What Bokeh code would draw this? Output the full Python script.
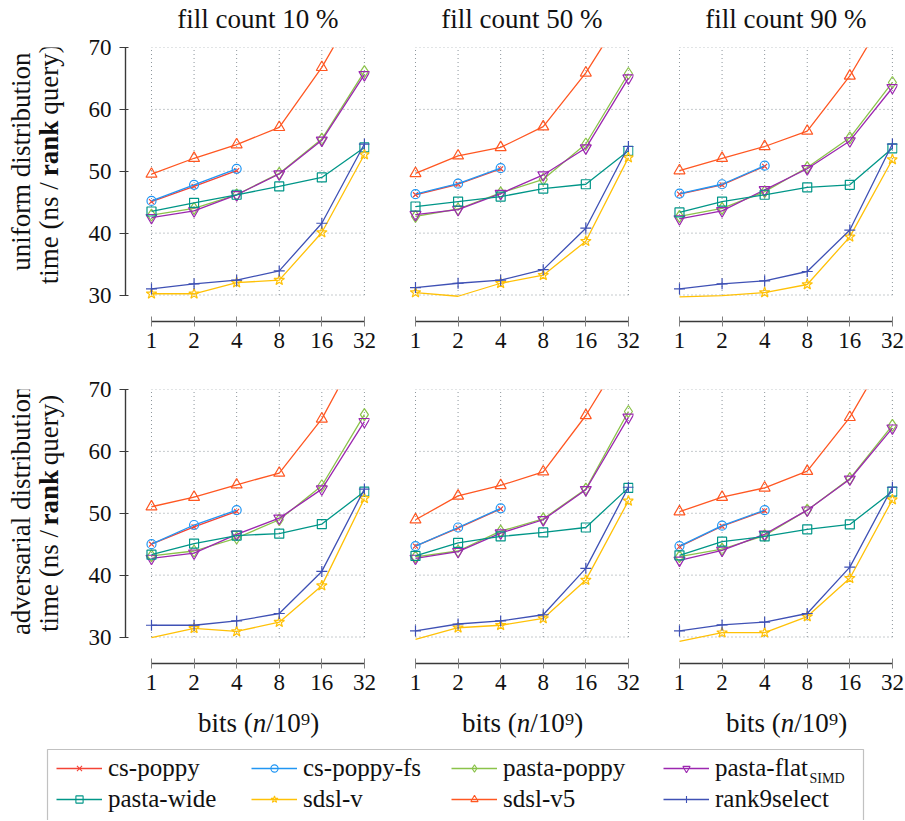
import math
from bokeh.plotting import figure
from bokeh.layouts import row, column
from bokeh.models import (Range1d, FixedTicker, BasicTickFormatter, Label,
                          Legend, LegendItem, BoxAnnotation)
from bokeh.core.properties import value
from bokeh.embed import file_html
from bokeh.resources import INLINE

# ---------------- data ----------------
bits = [1, 2, 4, 8, 16, 32]
y_ticks = [30, 40, 50, 60, 70]
fill_titles = ["fill count 10 %", "fill count 50 %", "fill count 90 %"]
row_titles = ["uniform distribution", "adversarial distribution"]
series_names = ["cs-poppy", "cs-poppy-fs", "pasta-poppy", "pasta-flat",
                "pasta-wide", "sdsl-v", "sdsl-v5", "rank9select"]

# panel order: uniform 10/50/90 %, adversarial 10/50/90 %
cs_poppy = [
    [45.1, 47.55, 50.1],
    [46.2, 47.9, 50.4],
    [46.3, 47.8, 50.8],
    [45.0, 47.8, 50.3],
    [44.7, 47.6, 50.7],
    [44.6, 47.9, 50.4],
]
cs_poppy_fs = [
    [45.2, 47.8, 50.4],
    [46.3, 48.0, 50.5],
    [46.4, 47.9, 50.9],
    [45.0, 48.1, 50.5],
    [44.7, 47.7, 50.8],
    [44.7, 48.0, 50.5],
]
pasta_poppy = [
    [42.9, 44.0, 46.2, 49.65, 55.2, 66.1],
    [42.7, 43.9, 46.5, 48.7, 54.4, 65.8],
    [42.7, 44.0, 46.7, 50.6, 55.4, 64.35],
    [43.1, 43.9, 46.0, 48.95, 54.45, 65.95],
    [42.95, 43.9, 47.1, 49.1, 53.9, 66.45],
    [43.0, 44.2, 46.4, 50.5, 55.6, 64.2],
]
pasta_flat = [
    [42.5, 43.6, 46.2, 49.55, 55.0, 65.6],
    [43.0, 43.8, 46.4, 49.4, 53.75, 65.05],
    [42.3, 43.6, 47.0, 50.4, 54.9, 63.5],
    [42.7, 43.55, 46.6, 49.2, 53.9, 64.8],
    [42.7, 43.8, 46.8, 48.95, 53.8, 65.5],
    [42.4, 44.0, 46.6, 50.5, 55.5, 63.75],
]
pasta_wide = [
    [43.5, 44.9, 46.2, 47.55, 49.0, 53.85],
    [44.3, 45.1, 45.9, 47.2, 47.9, 53.3],
    [43.35, 45.1, 46.2, 47.4, 47.8, 53.7],
    [43.3, 45.1, 46.4, 46.7, 48.25, 53.5],
    [43.1, 45.2, 46.25, 46.9, 47.7, 54.1],
    [43.2, 45.4, 46.25, 47.4, 48.2, 53.5],
]
sdsl_v = [
    [30.2, 30.2, 32.0, 32.4, 40.1, 52.7],
    [30.4, 29.8, 31.9, 33.2, 38.7, 52.2],
    [29.7, 29.9, 30.4, 31.7, 39.4, 51.9],
    [29.9, 31.4, 30.9, 32.4, 38.3, 52.4],
    [29.6, 31.5, 31.9, 33.0, 39.2, 52.0],
    [29.3, 30.7, 30.7, 33.3, 39.5, 52.2],
]
sdsl_v5 = [
    [49.55, 52.1, 54.3, 57.1, 66.8, 78.7],
    [49.65, 52.5, 53.85, 57.2, 65.9, 76.8],
    [50.1, 52.1, 54.0, 56.5, 65.4, 77.0],
    [51.05, 52.6, 54.6, 56.5, 65.25, 78.0],
    [48.95, 52.8, 54.5, 56.7, 65.8, 77.0],
    [50.25, 52.6, 54.1, 56.8, 65.5, 77.3],
]
rank9select = [
    [31.0, 31.8, 32.4, 33.9, 41.6, 54.4],
    [31.2, 31.9, 32.4, 34.1, 40.8, 54.0],
    [31.0, 31.8, 32.3, 33.8, 40.5, 54.4],
    [31.9, 31.9, 32.6, 33.8, 40.6, 53.9],
    [31.0, 32.1, 32.6, 33.6, 41.1, 54.2],
    [31.0, 31.95, 32.4, 33.8, 41.3, 54.2],
]
series_values = [cs_poppy, cs_poppy_fs, pasta_poppy, pasta_flat,
                 pasta_wide, sdsl_v, sdsl_v5, rank9select]

# ---------------- styles / layout ----------------
colors = ["#F44336", "#2196F3", "#8BC34A", "#9C27B0",
          "#009688", "#FFC107", "#FF5722", "#3F51B5"]
markers = ["x", "circle", "diamond", "inverted_triangle",
           "square", "star", "triangle", "cross"]
msizes = [7, 9, 12, 11, 9, 11, 11, 11]

FONT = "Liberation Serif"
TXT = "#111111"
FW, FH = 244, 274
XL = -26.0 / 42.6           # axis line 26 px left of x = 1 (octaves)
XR = 5 + 5.1 / 42.6         # a little room right of x = 32
PXOCT = FW / (XR - XL)
YB = 30 - 26.5 / 6.19       # x axis 26.5 px below y = 30
YT = 70.0
PXUNIT = FH / (YT - YB)
GRID = "#8d969c"
AXC = "#3a3a3a"
TSHIFT = 5                  # text glyph baseline correction (px)

YLAB_W = 70
COL_BORDERS = [(55, 10), (10, 10), (10, 8)]
TITLE_H = 34
ROW_TOP = [13, 27]
ROW_BOT = [41, 41]
XLAB_H = 36
LEG_H = 80
TOTAL_W = YLAB_W + sum(b[0] + FW + b[1] for b in COL_BORDERS)

frame_left = []
acc = YLAB_W
for bl, br in COL_BORDERS:
    frame_left.append(acc + bl)
    acc += bl + FW + br
col_center = [fl + (2.5 - XL) * PXOCT for fl in frame_left]


def make_panel(idx, col):
    bl, br = COL_BORDERS[col]
    r = idx // 3
    p = figure(frame_width=FW, frame_height=FH, x_axis_type="log",
               x_range=Range1d(2 ** XL, 2 ** XR), y_range=Range1d(YB, YT),
               output_backend="svg", toolbar_location=None,
               min_border_left=bl, min_border_right=br,
               min_border_top=ROW_TOP[r], min_border_bottom=ROW_BOT[r],
               y_axis_location="left" if col == 0 else None)
    p.outline_line_color = None
    p.grid.visible = False

    p.segment(x0=bits, y0=[y_ticks[0]] * len(bits), x1=bits,
              y1=[y_ticks[-1]] * len(bits), line_color=GRID,
              line_dash="1 3", line_width=1)
    p.segment(x0=[bits[0]] * len(y_ticks), y0=y_ticks,
              x1=[bits[-1]] * len(y_ticks), y1=y_ticks, line_color=GRID,
              line_dash="1 3", line_width=1)

    xa = p.xaxis[0]
    xa.ticker = FixedTicker(ticks=bits)
    xa.formatter = BasicTickFormatter()
    xa.bounds = (bits[0], bits[-1])
    xa.major_tick_in = 5
    xa.major_tick_out = 5
    xa.minor_tick_line_color = None
    xa.major_tick_line_color = "#808080"
    xa.axis_line_color = AXC
    xa.axis_line_width = 1.4
    xa.major_label_text_font = FONT
    xa.major_label_text_font_size = "23px"
    xa.major_label_text_color = TXT
    xa.major_label_standoff = 6

    if col == 0:
        ya = p.yaxis[0]
        ya.ticker = FixedTicker(ticks=y_ticks)
        ya.bounds = (y_ticks[0], y_ticks[-1])
        ya.major_tick_in = 3
        ya.major_tick_out = 6
        ya.minor_tick_line_color = None
        ya.major_tick_line_color = AXC
        ya.axis_line_color = AXC
        ya.axis_line_width = 1.4
        ya.major_label_text_font = FONT
        ya.major_label_text_font_size = "23px"
        ya.major_label_text_color = TXT
        ya.major_label_standoff = 8

    for k in range(len(series_names)):
        vals = series_values[k][idx]
        xs = bits[:len(vals)]
        p.line(x=xs, y=vals, line_color=colors[k], line_width=1.3)
        pts = [(b, v) for b, v in zip(xs, vals) if y_ticks[0] <= v <= y_ticks[-1]]
        p.scatter(x=[a for a, _ in pts], y=[b for _, b in pts],
                  marker=markers[k], size=msizes[k], line_color=colors[k],
                  fill_color=None, line_width=1.2)
    return p


def text_fig(w, h):
    f = figure(width=w, height=h, x_range=Range1d(0, w), y_range=Range1d(0, h),
               output_backend="svg", toolbar_location=None,
               x_axis_location=None, y_axis_location=None, min_border=0)
    f.outline_line_color = None
    f.grid.visible = False
    return f


def put_text(f, x, y, t, size, style="normal", align="left",
             baseline="alphabetic", angle=0.0):
    f.text(x=[x], y=[y], text=[t], angle=angle,
           text_font=value(FONT), text_font_size=value(size),
           text_font_style=value(style), text_align=value(align),
           text_baseline=value(baseline), text_color=TXT)


# --- titles ---
title_fig = text_fig(TOTAL_W, TITLE_H)
for c in range(3):
    put_text(title_fig, col_center[c], TITLE_H - 27 + TSHIFT + 4,
             fill_titles[c], "27px", align="center")


# --- y labels (two lines, "rank" in bold) ---
def ylabel_fig(r):
    h = ROW_TOP[r] + FH + ROW_BOT[r]
    f = text_fig(YLAB_W, h)
    cy = h - (ROW_TOP[r] + (YT - 50) * PXUNIT)
    put_text(f, 25 - TSHIFT, cy, row_titles[r], "27px", align="center",
             baseline="middle", angle=math.pi / 2)
    S = 27
    w1, gap, wr, w3 = 3.778 * S, 0.27 * S, 2.45 * S, 2.61 * S
    start = cy - (w1 + gap + wr + gap + w3) / 2
    rank_mid = start + w1 + gap + wr / 2
    x2 = 53 - TSHIFT
    put_text(f, x2, rank_mid - wr / 2 - gap, "time (ns /", "27px",
             align="right", baseline="middle", angle=math.pi / 2)
    put_text(f, x2, rank_mid, "rank", "27px", style="bold", align="center",
             baseline="middle", angle=math.pi / 2)
    put_text(f, x2, rank_mid + wr / 2 + gap, "query)", "27px",
             baseline="middle", angle=math.pi / 2)
    return f


# --- x labels ---
xlab_fig = text_fig(TOTAL_W, XLAB_H)
S = 27
xl_parts = [("bits (", "normal", 2.028 * S), ("n", "italic", 0.5 * S),
            ("/10\u2079)", "normal", 1.911 * S)]
for c in range(3):
    pos = col_center[c] - sum(w for _, _, w in xl_parts) / 2
    for t, st, w in xl_parts:
        put_text(xlab_fig, pos, 10 + TSHIFT + 3, t, "27px", style=st)
        pos += w

# --- panels ---
top_figs = [make_panel(c, c) for c in range(3)]
bot_figs = [make_panel(3 + c, c) for c in range(3)]

# ---------------- legend ----------------
leg = text_fig(TOTAL_W, LEG_H)
items = []
for k, name in enumerate(series_names):
    lr = leg.line(x=[-5, -4], y=[-5, -5], line_color=colors[k], line_width=1.3)
    sr = leg.scatter(x=[-5], y=[-5], marker=markers[k], size=msizes[k],
                     line_color=colors[k], fill_color=None, line_width=1.1)
    items.append(LegendItem(label=name, renderers=[lr, sr]))

col_x = [56, 251, 451, 663]
for j in range(4):
    lg = Legend(items=[items[j], items[j + 4]], location=(col_x[j], 5.5),
                orientation="vertical", border_line_color=None,
                background_fill_alpha=0, padding=0, spacing=0, margin=0,
                glyph_width=46, glyph_height=18, label_height=31,
                label_standoff=6, label_text_font=FONT,
                label_text_font_size="25px", label_text_color=TXT)
    leg.add_layout(lg)

leg.add_layout(BoxAnnotation(left=47, right=863, top=LEG_H - 9, bottom=-20,
                             left_units="screen", right_units="screen",
                             top_units="screen", bottom_units="screen",
                             fill_alpha=0, line_color="#333333", line_width=1.2))
leg.add_layout(Label(x=col_x[3] + 52 + 3.721 * 25 + 1, y=LEG_H - 38,
                     x_units="screen", y_units="screen", text="SIMD",
                     text_align="left", text_baseline="alphabetic",
                     text_font=FONT, text_font_size="14px", text_color=TXT))

layout = column(title_fig,
                row(ylabel_fig(0), *top_figs),
                row(ylabel_fig(1), *bot_figs),
                xlab_fig, leg)
open("out.html", "w").write(file_html(layout, INLINE))
